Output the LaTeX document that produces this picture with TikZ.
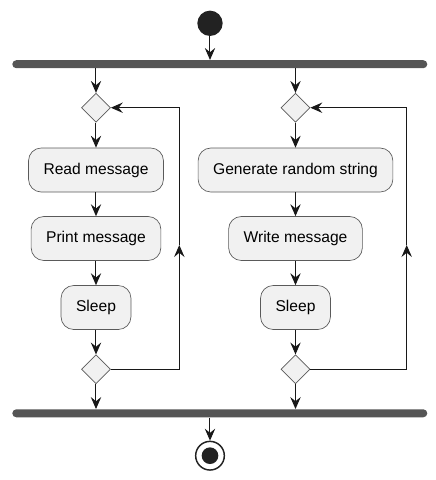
\documentclass[tikz,border=0pt]{standalone}
\usepackage{fontspec}
\setmainfont{Liberation Sans}
\usepackage{tikz}
\usetikzlibrary{arrows.meta}
\usetikzlibrary{shapes}
\definecolor{umlline}{HTML}{181818}
\definecolor{umlfill}{HTML}{F1F1F1}
\definecolor{umlbar}{HTML}{555555}
\definecolor{umldot}{HTML}{222222}
\definecolor{umledge}{HTML}{5A5A5A}
\tikzset{
  act/.style={draw=umledge, line width=0.5pt, fill=umlfill, rounded corners=9.5pt, minimum height=33pt, inner xsep=11.25pt, font=\fontsize{11.7}{14}\selectfont},
  choice/.style={diamond, draw=umledge, fill=umlfill, line width=0.5pt, minimum width=21.75pt, minimum height=21.75pt, inner sep=0pt},
  syncbar/.style={fill=umlbar, rounded corners=3pt, minimum width=311.25pt, minimum height=6pt, inner sep=0pt},
  flow/.style={draw=umlline, line width=0.75pt, -{Stealth[length=9pt,width=7.8pt,inset=3.2pt]}},
}
\newcommand{\lane}[6]{
  \node[choice] (#1top) at ( #2 , 107.7 ) {};
  \node[act] (#1a) at ( #2 , 170 ) {#4};
  \node[act] (#1b) at ( #2 , 238.5 ) {#5};
  \node[act] (#1c) at ( #2 , 307.5 ) {#6};
  \node[choice] (#1bot) at ( #2 , 369.3 ) {};
  \coordinate (#1lb) at ( #3 , 369.3 );
  \coordinate (#1lm) at ( #3 , 245 );
  \draw[flow] (fork.south -| #1top) -- (#1top);
  \draw[flow] (#1top) -- (#1a);
  \draw[flow] (#1a) -- (#1b);
  \draw[flow] (#1b) -- (#1c);
  \draw[flow] (#1c) -- (#1bot);
  \draw[flow] (#1bot) -- (#1bot |- join.north);
  \draw[flow] (#1bot.east) -- (#1lb) -- (#1lm);
  \draw[flow] (#1lm) |- (#1top.east);
}

\begin{document}
\begin{tikzpicture}[x=0.75pt, y=-0.75pt]
    \useasboundingbox (0,0) rectangle (436,480);

    % start and bars
    \node[circle, fill=umldot, minimum size=19pt, inner sep=0pt] (start) at ( 210 , 23.3 ) {};
    \node[syncbar] (fork) at ( 219.8 , 64.2 ) {};
    \node[syncbar] (join) at ( 219.8 , 413.3 ) {};
    \draw[flow] (start) -- (start |- fork.north);

    % left lane
    \lane{l}{96}{179.3}{Read message}{Print message}{Sleep}
    % right lane
    \lane{r}{295.5}{406.7}{Generate random string}{Write message}{Sleep}

    % end
    \node[circle, draw=umldot, line width=1.1pt, fill=white, minimum size=21.5pt, inner sep=0pt] (stop) at ( 210 , 455.7 ) {};
    \node[circle, fill=umldot, minimum size=12.5pt, inner sep=0pt] (stopdot) at (stop) {};
    \draw[flow] (join.south -| stop) -- (stop);
\end{tikzpicture}
\end{document}
